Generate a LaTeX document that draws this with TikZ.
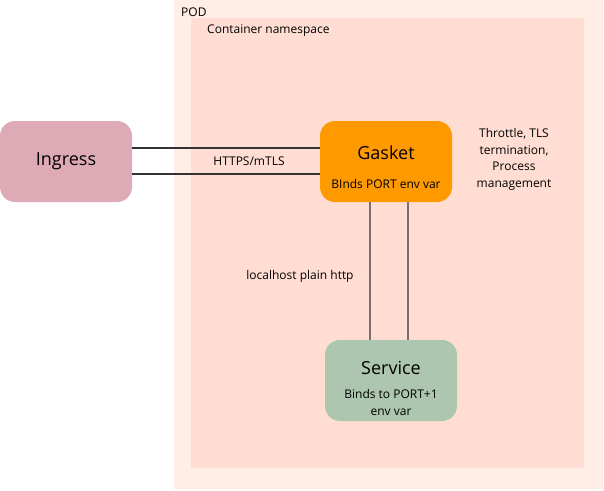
\documentclass[tikz,border=0pt]{standalone}
\usepackage{fontspec}
\setmainfont{Open Sans}
\definecolor{podfill}{HTML}{FFEDE6}
\definecolor{nsfill}{HTML}{FFDDD2}
\definecolor{ingfill}{HTML}{DDAAB6}
\definecolor{gasfill}{HTML}{FF9900}
\definecolor{svcfill}{HTML}{ADC6AF}
\definecolor{hline}{HTML}{333333}
\definecolor{vline}{HTML}{777070}
\tikzset{
  small/.style={font=\fontsize{12}{16.5}\selectfont, text=black, inner sep=0pt},
  big/.style={font=\fontsize{18}{22}\selectfont, text=black, inner sep=0pt},
}
\begin{document}
\begin{tikzpicture}[x=1pt,y=-1pt]
\useasboundingbox (0,0) rectangle (604,490);
\fill[podfill] (174,0) rectangle (603,489);
\fill[nsfill] (191,18) rectangle (584,468);
\node[small, anchor=west] (podlbl) at (181,12) {POD};
\node[small, anchor=west] (nslbl) at (207,31) {Container namespace};
% nodes
\fill[ingfill, rounded corners=15pt] (0,121) rectangle (132,202);
\node[big] (ingt) at (66,161.5) {Ingress};
\fill[gasfill, rounded corners=15pt] (320,121) rectangle (452,202);
\node[big] (gast) at (386,153) {Gasket};
\node[small] (gass) at (386,184) {BInds PORT env var};
\fill[svcfill, rounded corners=15pt] (325,340) rectangle (457,421);
\node[big] (svct) at (391,368) {Service};
\node[small, align=center] (svcs) at (391,402.5) {Binds to PORT+1\\env var};
% anchors for connectors
\coordinate (ia) at (132,148);
\coordinate (ib) at (132,174);
\coordinate (ga) at (320,148);
\coordinate (gb) at (320,174);
\coordinate (gc) at (370,202);
\coordinate (gd) at (408,202);
\coordinate (sc) at (370,340);
\coordinate (sd) at (408,340);
\draw[hline, line width=1.2pt] (ia) -- (ga);
\draw[hline, line width=1.2pt] (ib) -- (gb);
\draw[vline, line width=1.8pt] (gc) -- (sc);
\draw[vline, line width=1.8pt] (gd) -- (sd);
\node[small] (https) at (249,161) {HTTPS/mTLS};
\node[small] (lh) at (300,276) {localhost plain http};
\node[small, align=center] (thr) at (514,159.5) {Throttle, TLS\\termination,\\Process\\management};
\end{tikzpicture}
\end{document}
